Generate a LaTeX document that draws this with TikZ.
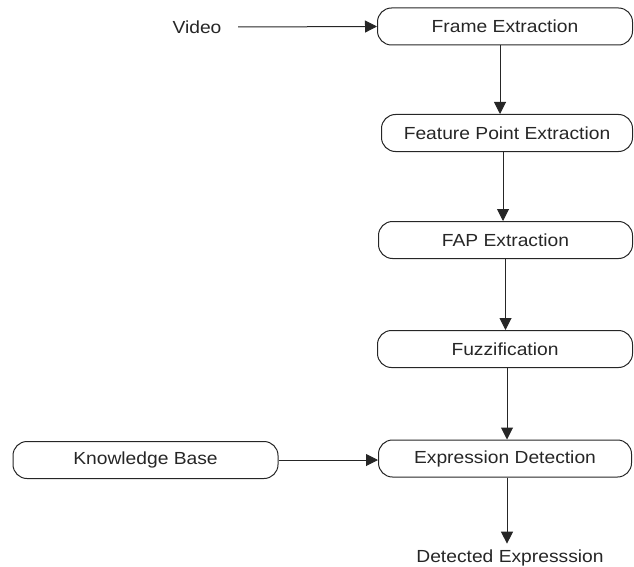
\documentclass[tikz,border=0pt]{standalone}
\usepackage{fontspec}
\setmainfont{Liberation Sans}[FakeStretch=1.1]
\usetikzlibrary{arrows.meta}
\begin{document}
\begin{tikzpicture}[x=1pt,y=-1pt,
  box/.style={draw=black!85, line width=1pt, rounded corners=14pt, minimum height=37pt, inner sep=0pt, text=black!85, font=\fontsize{17.5}{20}\selectfont},
  lbl/.style={text=black!85, inner sep=0pt, font=\fontsize{17.5}{20}\selectfont},
  arr/.style={draw=black!85, line width=1pt, -{Triangle[length=12pt,width=12pt]}}]
\useasboundingbox (0,0) rectangle (634,567);
\node[lbl] (video) at (197,27) {Video};
\node[box, minimum width=255pt] (fe) at (505,26.5) {Frame Extraction};
\node[box, minimum width=251pt] (fpe) at (507,133) {Feature Point Extraction};
\node[box, minimum width=254pt] (fap) at (505.5,240) {FAP Extraction};
\node[box, minimum width=255pt] (fuz) at (505,349) {Fuzzification};
\node[box, minimum width=253pt] (ed) at (505,458.5) {Expression Detection};
\node[box, minimum width=265pt] (kb) at (145.5,460) {Knowledge Base};
\node[lbl] (de) at (510,558) {Detected Expresssion};
\coordinate (vs) at (238,27);
\draw[arr] (vs) -- (fe.west);
\draw[arr] ([xshift=-5pt]fe.south) -- ([xshift=-5pt]fe.south |- fpe.north);
\draw[arr] ([xshift=-4pt]fpe.south) -- ([xshift=-4pt]fpe.south |- fap.north);
\draw[arr] ([xshift=0pt]fap.south) -- ([xshift=0pt]fap.south |- fuz.north);
\draw[arr] ([xshift=2pt]fuz.south) -- ([xshift=2pt]fuz.south |- ed.north);
\draw[arr] (kb.east) -- (kb.east -| ed.west);
\draw[arr] ([xshift=2pt]ed.south) -- ([xshift=2pt,yshift=6pt]ed.south |- de.north);
\end{tikzpicture}
\end{document}
